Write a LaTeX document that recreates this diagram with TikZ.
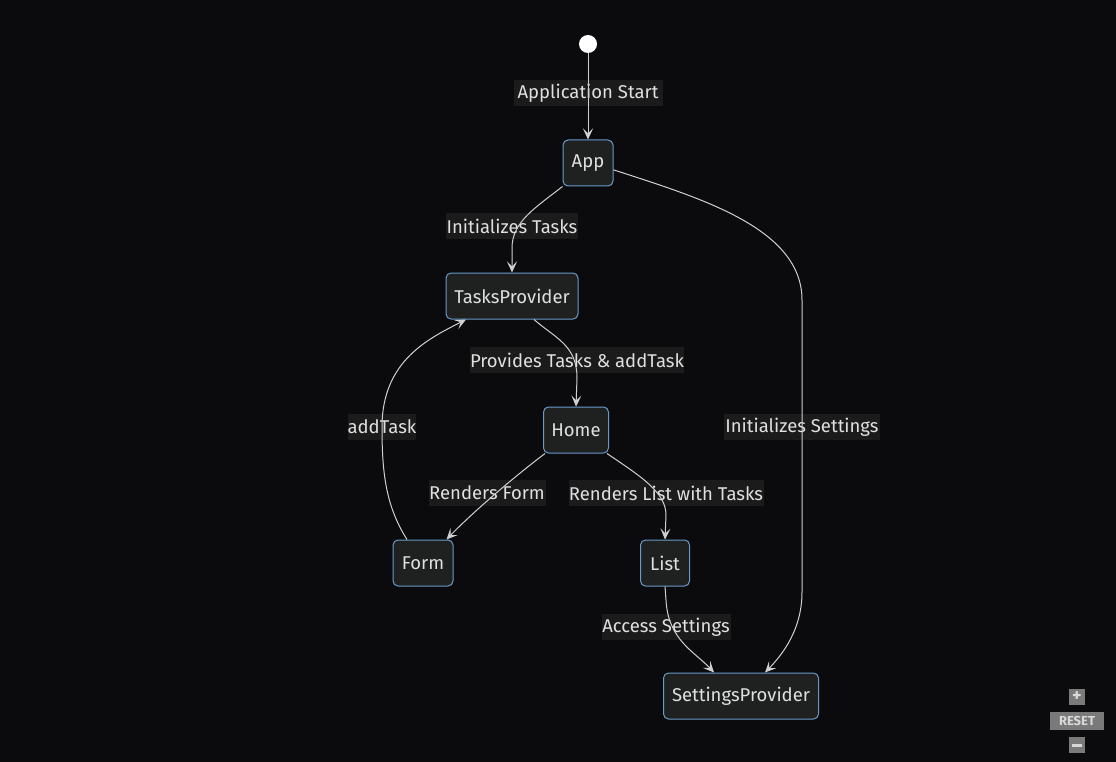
\documentclass[tikz,border=0pt]{standalone}
\usepackage{fontspec}
\setmainfont{Fira Sans}
\usetikzlibrary{arrows.meta}
\definecolor{bgc}{HTML}{0B0B0D}
\definecolor{nodefill}{HTML}{1F2020}
\definecolor{nodeline}{HTML}{6A9ACB}
\definecolor{lblfill}{HTML}{1B1B1B}
\definecolor{txtc}{HTML}{E0E0E0}
\definecolor{edgec}{HTML}{D0D0D0}
\definecolor{btnfill}{HTML}{7A7A7A}
\definecolor{btntxt}{HTML}{D8D8D8}
\tikzset{
  state/.style={draw=nodeline, fill=nodefill, rounded corners=5pt, line width=1pt,
    minimum height=46pt, inner xsep=0pt, text=txtc, font=\fontsize{18.5pt}{22pt}\selectfont},
  lbl/.style={fill=lblfill, text=txtc, inner xsep=0pt, minimum height=26pt, font=\fontsize{18.5pt}{22pt}\selectfont},
  edge/.style={draw=edgec, line width=1pt, -{Stealth[length=11pt,width=10pt,inset=5pt]}},
  btn/.style={fill=btnfill, text=btntxt, inner sep=0pt, font=\sffamily\bfseries}
}
\begin{document}
\begin{tikzpicture}[x=1pt,y=-1pt]
\fill[bgc] (0,0) rectangle (1116,762);
\useasboundingbox (0,0) rectangle (1116,762);
% nodes
\node[circle, fill=white, inner sep=0pt, minimum size=18pt] (start) at (588,44) {};
\node[state, minimum width=50pt] (App) at (588,163) {App};
\node[state, minimum width=132pt] (TP) at (512,296) {TasksProvider};
\node[state, minimum width=65pt] (Home) at (576,430) {Home};
\node[state, minimum width=60pt] (Form) at (423,563) {Form};
\node[state, minimum width=49pt] (List) at (665,563) {List};
\node[state, minimum width=155pt] (SP) at (741,696) {SettingsProvider};
% labels
\node[lbl, minimum width=149pt] (l1) at (588,93) {Application Start};
\node[lbl, minimum width=132pt] (l2) at (512,226) {Initializes Tasks};
\node[lbl, minimum width=212pt] (l3) at (577,360) {Provides Tasks \& addTask};
\node[lbl, minimum width=68pt] (l4) at (382,427) {addTask};
\node[lbl, minimum width=156pt] (l5) at (802,427) {Initializes Settings};
\node[lbl, minimum width=117pt] (l6) at (487,493) {Renders Form};
\node[lbl, minimum width=195pt] (l7) at (666,493) {Renders List with Tasks};
\node[lbl, minimum width=129pt] (l8) at (666,627) {Access Settings};
% edges
\draw[edge] (start) -- (App);
\draw[edge] (App.south west) .. controls (535,208) and (512,222) .. (512,248) -- (TP.north);
\draw[edge] (App.-15) .. controls (700,198) and (802,228) .. (802,300) -- (802,592) .. controls (802,630) and (782,655) .. ([xshift=24pt]SP.north);
\draw[edge] ([xshift=22pt]TP.south) .. controls (555,338) and (577,345) .. (577,378) -- (Home.north);
\draw[edge] ([xshift=2pt]Home.south west) .. controls (510,480) and (470,515) .. ([xshift=-7pt]Form.north east);
\draw[edge] ([xshift=-2pt]Home.south east) .. controls (640,476) and (666,492) .. (666,515) -- (List.north);
\draw[edge] (List.south) -- (666,600) .. controls (668,640) and (695,652) .. ([xshift=-27pt]SP.north);
\draw[edge] ([xshift=-16pt]Form.north) .. controls (385,505) and (382,470) .. (382,427) .. controls (382,360) and (430,338) .. ([xshift=-46pt]TP.south);
% zoom controls
\node[btn, minimum width=16pt, minimum height=16pt, font=\bfseries\fontsize{18pt}{18pt}\selectfont] (plus) at (1077,697) {+};
\node[btn, minimum width=54pt, minimum height=18pt, font=\bfseries\fontsize{13pt}{13pt}\selectfont] (reset) at (1077,721) {RESET};
\node[btn, minimum width=16pt, minimum height=16pt] (minus) at (1077,745) {\rule{10pt}{3pt}};
\end{tikzpicture}
\end{document}
